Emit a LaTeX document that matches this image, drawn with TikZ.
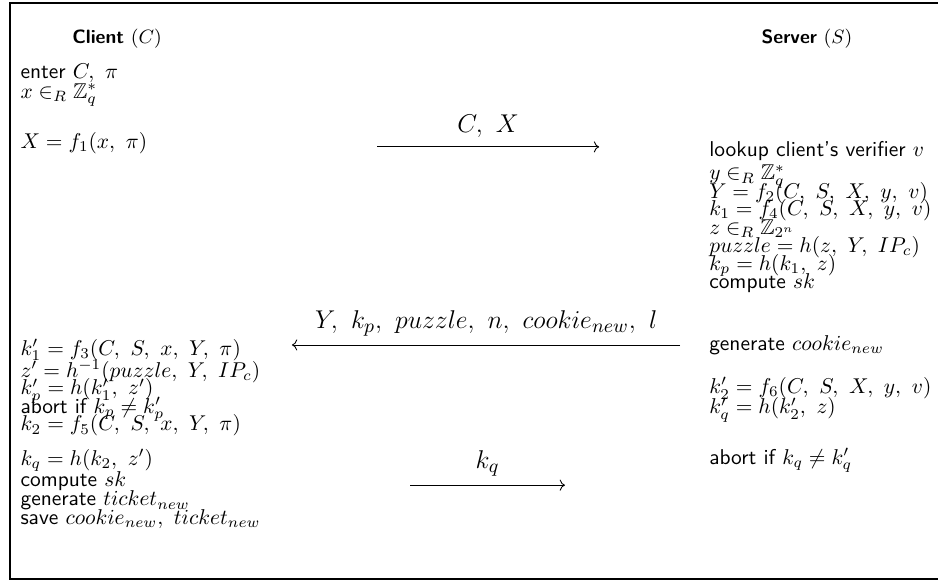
\documentclass[tikz,border=0pt]{standalone}
\usepackage{amsmath,amssymb}
\usetikzlibrary{arrows.meta,positioning}

\begin{document}
\begin{tikzpicture}[
  txt/.style={anchor=base west, inner sep=0pt, font=\sffamily},
  head/.style={anchor=base, inner sep=0pt, font=\sffamily\fontsize{9}{11}\selectfont},
  msg/.style={->, thin},
  lbl/.style={above, inner sep=4pt, font=\fontsize{12.6}{15}\selectfont}
]
% Page size and frame
\useasboundingbox (0,0) rectangle (15.39,-9.53);
\draw[line width=0.9pt] (0.164,-0.049) rectangle (15.45,-9.50);

\def\cx{0.33}
\def\sx{11.63}

% Column titles
\node[head] (ctitle) at (1.92,-0.71) {\textbf{Client} $(C)$};
\node[head] (stitle) at (13.24,-0.71) {\textbf{Server} $(S)$};

% Client, first step
\node[txt] (c1) at (\cx,-1.28) {enter $C,\ \pi$};
\node[txt] (c2) at (\cx,-1.61) {$x \in_R \mathbb{Z}_q^*$};
\node[txt] (c3) at (\cx,-2.44) {$X = f_1(x,\ \pi)$};

% Server, first step
\node[txt] (s1) at (\sx,-2.56) {lookup client's verifier $v$};
\node[txt] (s2) at (\sx,-2.95) {$y \in_R \mathbb{Z}_q^*$};
\node[txt] (s3) at (\sx,-3.25) {$Y = f_2(C,\ S,\ X,\ y,\ v)$};
\node[txt] (s4) at (\sx,-3.54) {$k_1 = f_4(C,\ S,\ X,\ y,\ v)$};
\node[txt] (s5) at (\sx,-3.84) {$z \in_R \mathbb{Z}_{2^n}$};
\node[txt] (s6) at (\sx,-4.14) {$puzzle = h(z,\ Y,\ IP_c)$};
\node[txt] (s7) at (\sx,-4.43) {$k_p = h(k_1,\ z)$};
\node[txt] (s8) at (\sx,-4.73) {compute $sk$};
\node[txt] (s9) at (\sx,-5.75) {generate $cookie_{new}$};

% Client, second step
\node[txt] (c4) at (\cx,-5.83) {$k_1' = f_3(C,\ S,\ x,\ Y,\ \pi)$};
\node[txt] (c5) at (\cx,-6.19) {$z' = h^{-1}(puzzle,\ Y,\ IP_c)$};
\node[txt] (c6) at (\cx,-6.48) {$k_p' = h(k_1',\ z')$};
\node[txt] (c7) at (\cx,-6.78) {abort if $k_p \neq k_p'$};
\node[txt] (c8) at (\cx,-7.07) {$k_2 = f_5(C,\ S,\ x,\ Y,\ \pi)$};
\node[txt] (c9) at (\cx,-7.64) {$k_q = h(k_2,\ z')$};
\node[txt] (c10) at (\cx,-7.99) {compute $sk$};
\node[txt] (c11) at (\cx,-8.30) {generate $ticket_{new}$};
\node[txt] (c12) at (\cx,-8.61) {save $cookie_{new},\ ticket_{new}$};

% Server, second step
\node[txt] (s10) at (\sx,-6.46) {$k_2' = f_6(C,\ S,\ X,\ y,\ v)$};
\node[txt] (s11) at (\sx,-6.79) {$k_q' = h(k_2',\ z)$};
\node[txt] (s12) at (\sx,-7.62) {abort if $k_q \neq k_q'$};

% Messages
\coordinate (m1a) at (6.19,-2.41);
\coordinate (m1b) at (9.83,-2.41);
\coordinate (m2a) at (11.16,-5.66);
\coordinate (m2b) at (4.79,-5.66);
\coordinate (m3a) at (6.73,-7.96);
\coordinate (m3b) at (9.27,-7.96);
\draw[msg] (m1a) -- node[lbl] {$C,\ X$} (m1b);
\draw[msg] (m2a) -- node[lbl] {$Y,\ k_p,\ puzzle,\ n,\ cookie_{new},\ l$} (m2b);
\draw[msg] (m3a) -- node[lbl] {$k_q$} (m3b);
\end{tikzpicture}
\end{document}
